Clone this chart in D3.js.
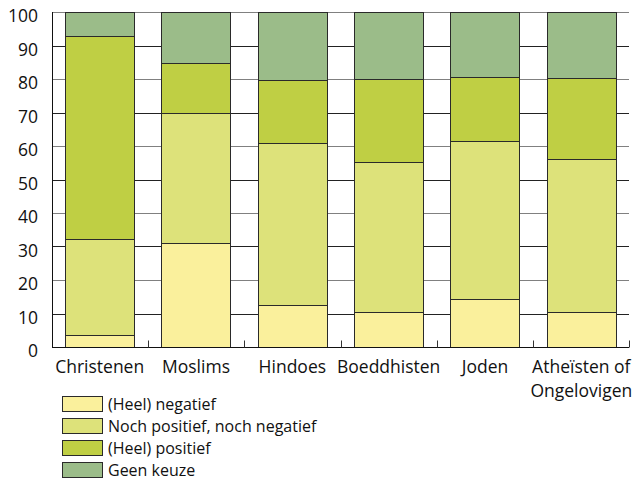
<!DOCTYPE html>
<html>
<head>
<meta charset="utf-8">
<script src="https://cdn.jsdelivr.net/npm/d3@7"></script>
<style>
  body { margin: 0; background: #fff; }
  text { font-family: "Open Sans", "Noto Sans", sans-serif; fill: #111; }
</style>
</head>
<body>
<div id="chart"></div>
<script>
// data (percentages)
var categories = ["Christenen", "Moslims", "Hindoes", "Boeddhisten", "Joden", "Atheïsten of|Ongelovigen"];
var negatief   = [3.5, 31.0, 12.4, 10.5, 14.2, 10.4];
var noch       = [28.8, 39.0, 48.6, 44.6, 47.2, 45.6];
var positief   = [60.6, 14.8, 18.6, 25.0, 19.3, 24.4];
var geenKeuze  = [7.1, 15.2, 20.4, 19.9, 19.3, 19.6];
var seriesNames = ["(Heel) negatief", "Noch positief, noch negatief", "(Heel) positief", "Geen keuze"];
var yTicks = [0, 10, 20, 30, 40, 50, 60, 70, 80, 90, 100];

var colors = ["#faf09c", "#dde27a", "#bfcf44", "#9bbc89"];

var w = 637, h = 490;
var margin = {left: 52, right: 8, top: 12, bottom: 143};
var fs = "17.5px";

var svg = d3.select("#chart").append("svg")
    .attr("width", w)
    .attr("height", h);

var x = d3.scaleBand()
    .domain(categories)
    .range([margin.left, w - margin.right])
    .paddingInner(0.28)
    .paddingOuter(0.135);

var y = d3.scaleLinear()
    .domain([0, 100])
    .range([h - margin.bottom, margin.top]);

// gridlines (alternating dark / grey like the original)
svg.append("g").selectAll("line")
    .data(yTicks.slice(1))
    .enter().append("line")
    .attr("x1", margin.left).attr("x2", w - margin.right)
    .attr("y1", function(d) { return Math.round(y(d)) + 0.5; })
    .attr("y2", function(d) { return Math.round(y(d)) + 0.5; })
    .attr("stroke", function(d) { return (d / 10) % 2 ? "#222" : "#808080"; })
    .attr("stroke-width", 1);

// stack
var rows = categories.map(function(c, i) {
  return {cat: c, a: negatief[i], b: noch[i], c: positief[i], d: geenKeuze[i]};
});
var stack = d3.stack().keys(["a", "b", "c", "d"]);
var layers = stack(rows);

var g = svg.append("g");
layers.forEach(function(layer, li) {
  g.selectAll(".s" + li)
    .data(layer)
    .enter().append("rect")
      .attr("x", function(d) { return Math.round(x(d.data.cat)) + 0.5; })
      .attr("width", Math.round(x.bandwidth()))
      .attr("y", function(d) { return Math.round(y(d[1])) + 0.5; })
      .attr("height", function(d) { return Math.round(y(d[0])) - Math.round(y(d[1])); })
      .attr("fill", colors[li])
      .attr("stroke", "#2a2a2a")
      .attr("stroke-width", 1);
});

// axes lines
var y0 = Math.round(y(0)) + 0.5;
svg.append("line")
    .attr("x1", margin.left + 0.5).attr("x2", margin.left + 0.5)
    .attr("y1", margin.top).attr("y2", y0)
    .attr("stroke", "#111");
svg.append("line")
    .attr("x1", margin.left).attr("x2", w - margin.right)
    .attr("y1", y0).attr("y2", y0)
    .attr("stroke", "#111");

// small ticks between categories
var step = x.step();
var bounds = categories.map(function(c) { return x(c) + x.bandwidth() + (step - x.bandwidth()) / 2; });
svg.append("g").selectAll("line")
    .data(bounds)
    .enter().append("line")
    .attr("x1", function(d) { return Math.round(d) + 0.5; })
    .attr("x2", function(d) { return Math.round(d) + 0.5; })
    .attr("y1", y0).attr("y2", y0 - 7)
    .attr("stroke", "#333");

// y labels
svg.append("g").selectAll("text")
    .data(yTicks)
    .enter().append("text")
    .attr("x", 38)
    .attr("y", function(d) { return y(d) + 10; })
    .attr("text-anchor", "end")
    .style("font-size", fs)
    .text(function(d) { return d; });

// x labels
svg.append("g").selectAll("text")
    .data(categories)
    .enter().append("text")
    .attr("text-anchor", "middle")
    .attr("x", function(d) { return x(d) + x.bandwidth() / 2; })
    .attr("y", 373)
    .style("font-size", fs)
    .each(function(d) {
      var parts = d.split("|");
      var t = d3.select(this);
      parts.forEach(function(p, i) {
        t.append("tspan")
          .attr("x", x(d) + x.bandwidth() / 2)
          .attr("dy", i ? 24 : 0)
          .text(p);
      });
    });

// legend
var legend = svg.append("g").attr("transform", "translate(62,396)");
seriesNames.forEach(function(name, i) {
  var row = legend.append("g").attr("transform", "translate(0," + (i * 22) + ")");
  row.append("rect")
    .attr("x", 0.5).attr("y", 0.5)
    .attr("width", 40).attr("height", 15)
    .attr("fill", colors[i])
    .attr("stroke", "#2a2a2a");
  row.append("text")
    .attr("x", 46).attr("y", 14)
    .style("font-size", "16px")
    .text(name);
});
</script>
</body>
</html>
